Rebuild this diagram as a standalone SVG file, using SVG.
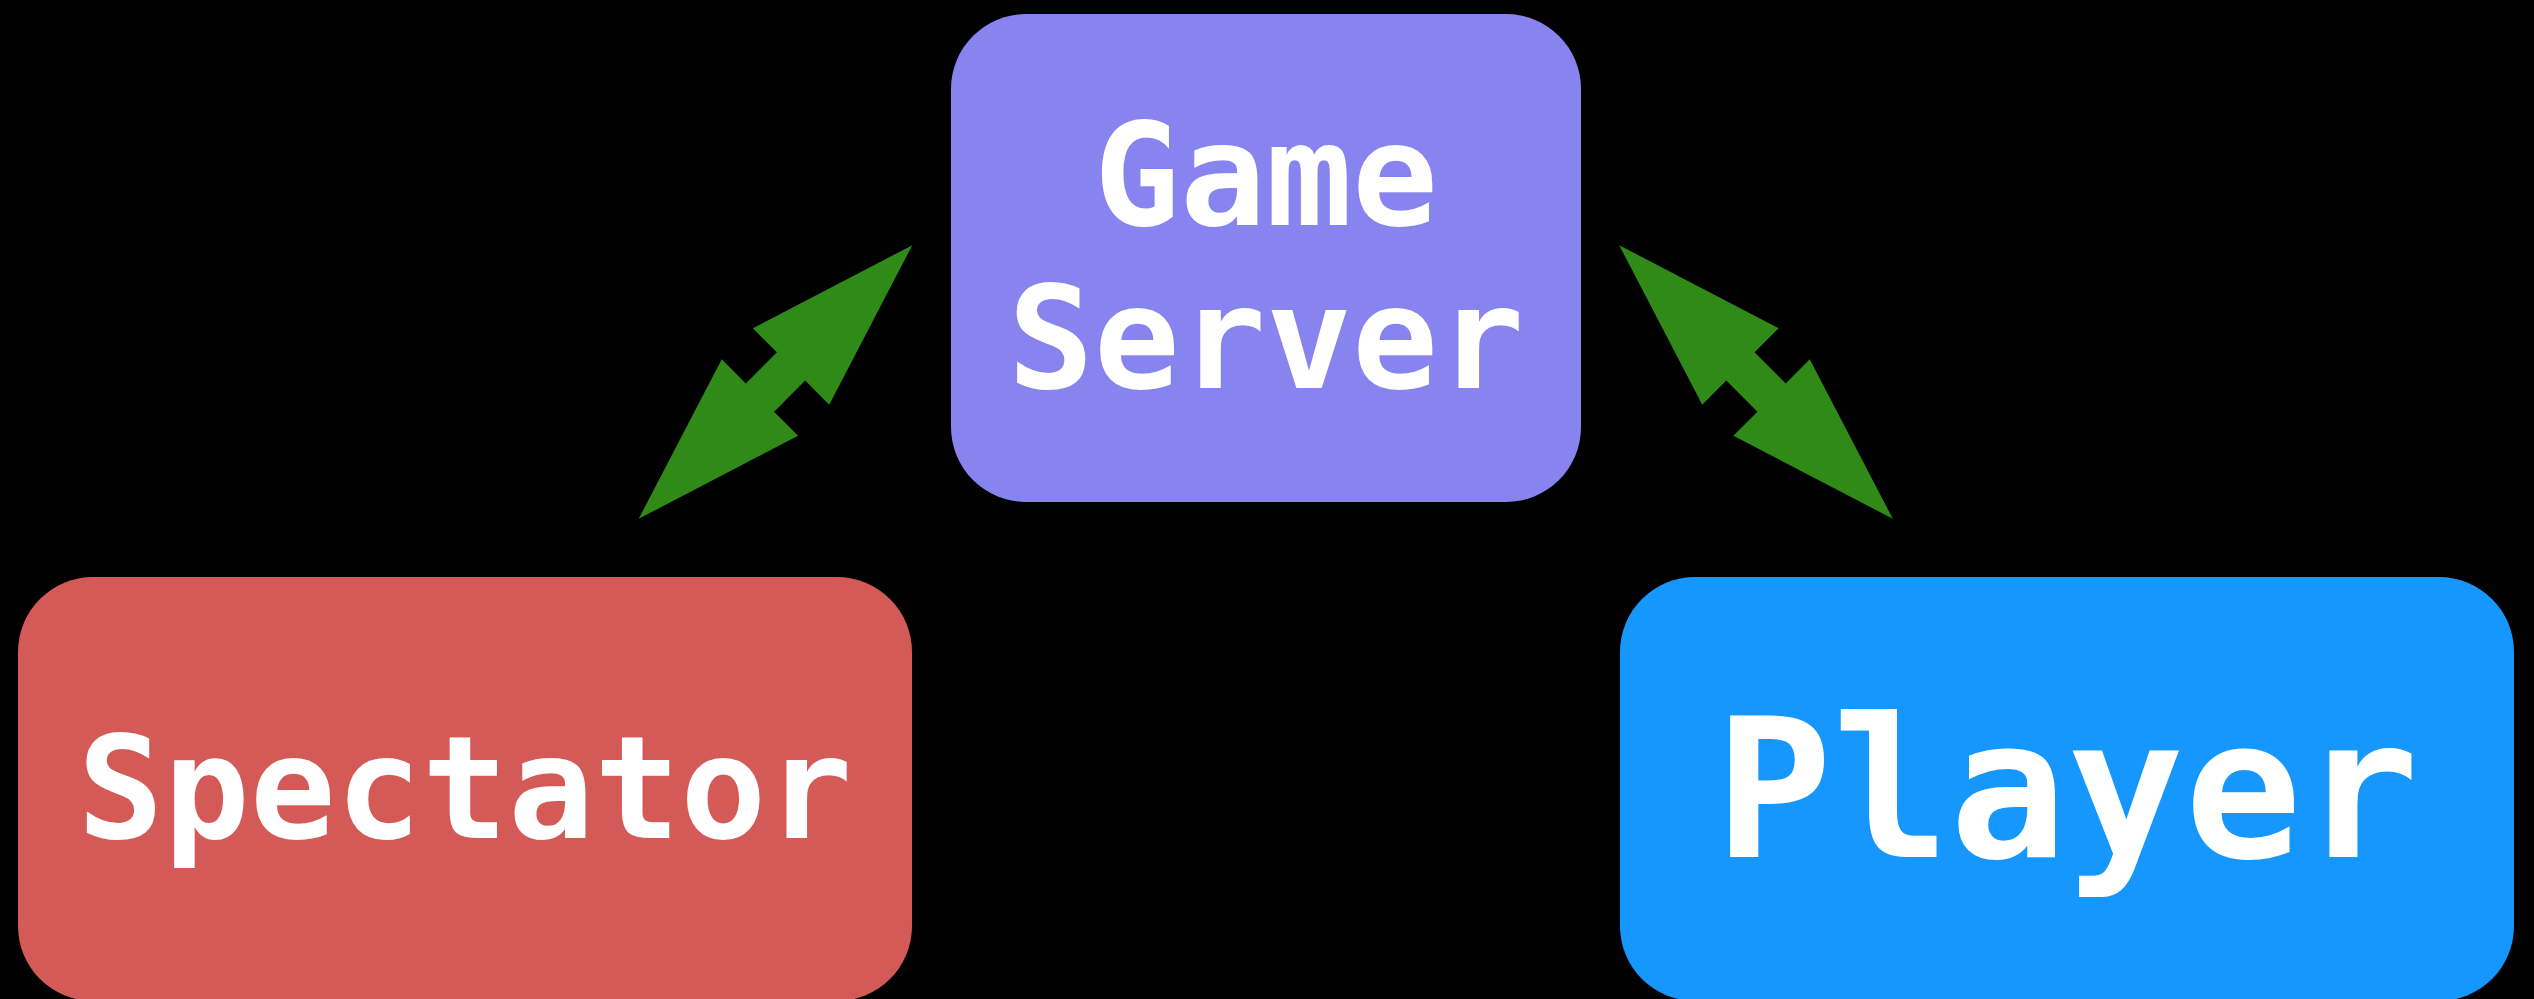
<svg xmlns="http://www.w3.org/2000/svg" width="2534" height="999" viewBox="0 0 2534 999">
  <style>
    .label { font-family: "DejaVu Sans Mono", "Liberation Mono", monospace; font-weight: bold; fill: #ffffff; text-anchor: middle; }
    .link { fill: #2f8a18; }
  </style>
  <defs>
    <!-- double-headed arrow laid along the x axis, centred on the origin -->
    <path id="dblArrow" d="M193.5,0 L22,54 L22,20 L-22,20 L-22,54 L-193.5,0 L-22,-54 L-22,-20 L22,-20 L22,-54 Z"/>
  </defs>

  <rect x="0" y="0" width="2534" height="999" fill="#000000"/>

  <g id="connectors">
    <use href="#dblArrow" class="link" transform="translate(775.5,382) rotate(-45)"/>
    <use href="#dblArrow" class="link" transform="translate(1756,382) rotate(45)"/>
  </g>

  <g id="game-server">
    <rect x="951" y="14" width="630" height="488" rx="75" ry="75" fill="#8884ef"/>
    <text class="label" x="1266" y="225" font-size="143">Game</text>
    <text class="label" x="1266" y="388" font-size="143">Server</text>
  </g>

  <g id="spectator">
    <rect x="18" y="577" width="894" height="424" rx="75" ry="75" fill="#d45a57"/>
    <text class="label" x="465" y="838" font-size="143">Spectator</text>
  </g>

  <g id="player">
    <rect x="1620" y="577" width="894" height="424" rx="75" ry="75" fill="#1597fd"/>
    <text class="label" x="2067" y="857" font-size="195">Player</text>
  </g>
</svg>
